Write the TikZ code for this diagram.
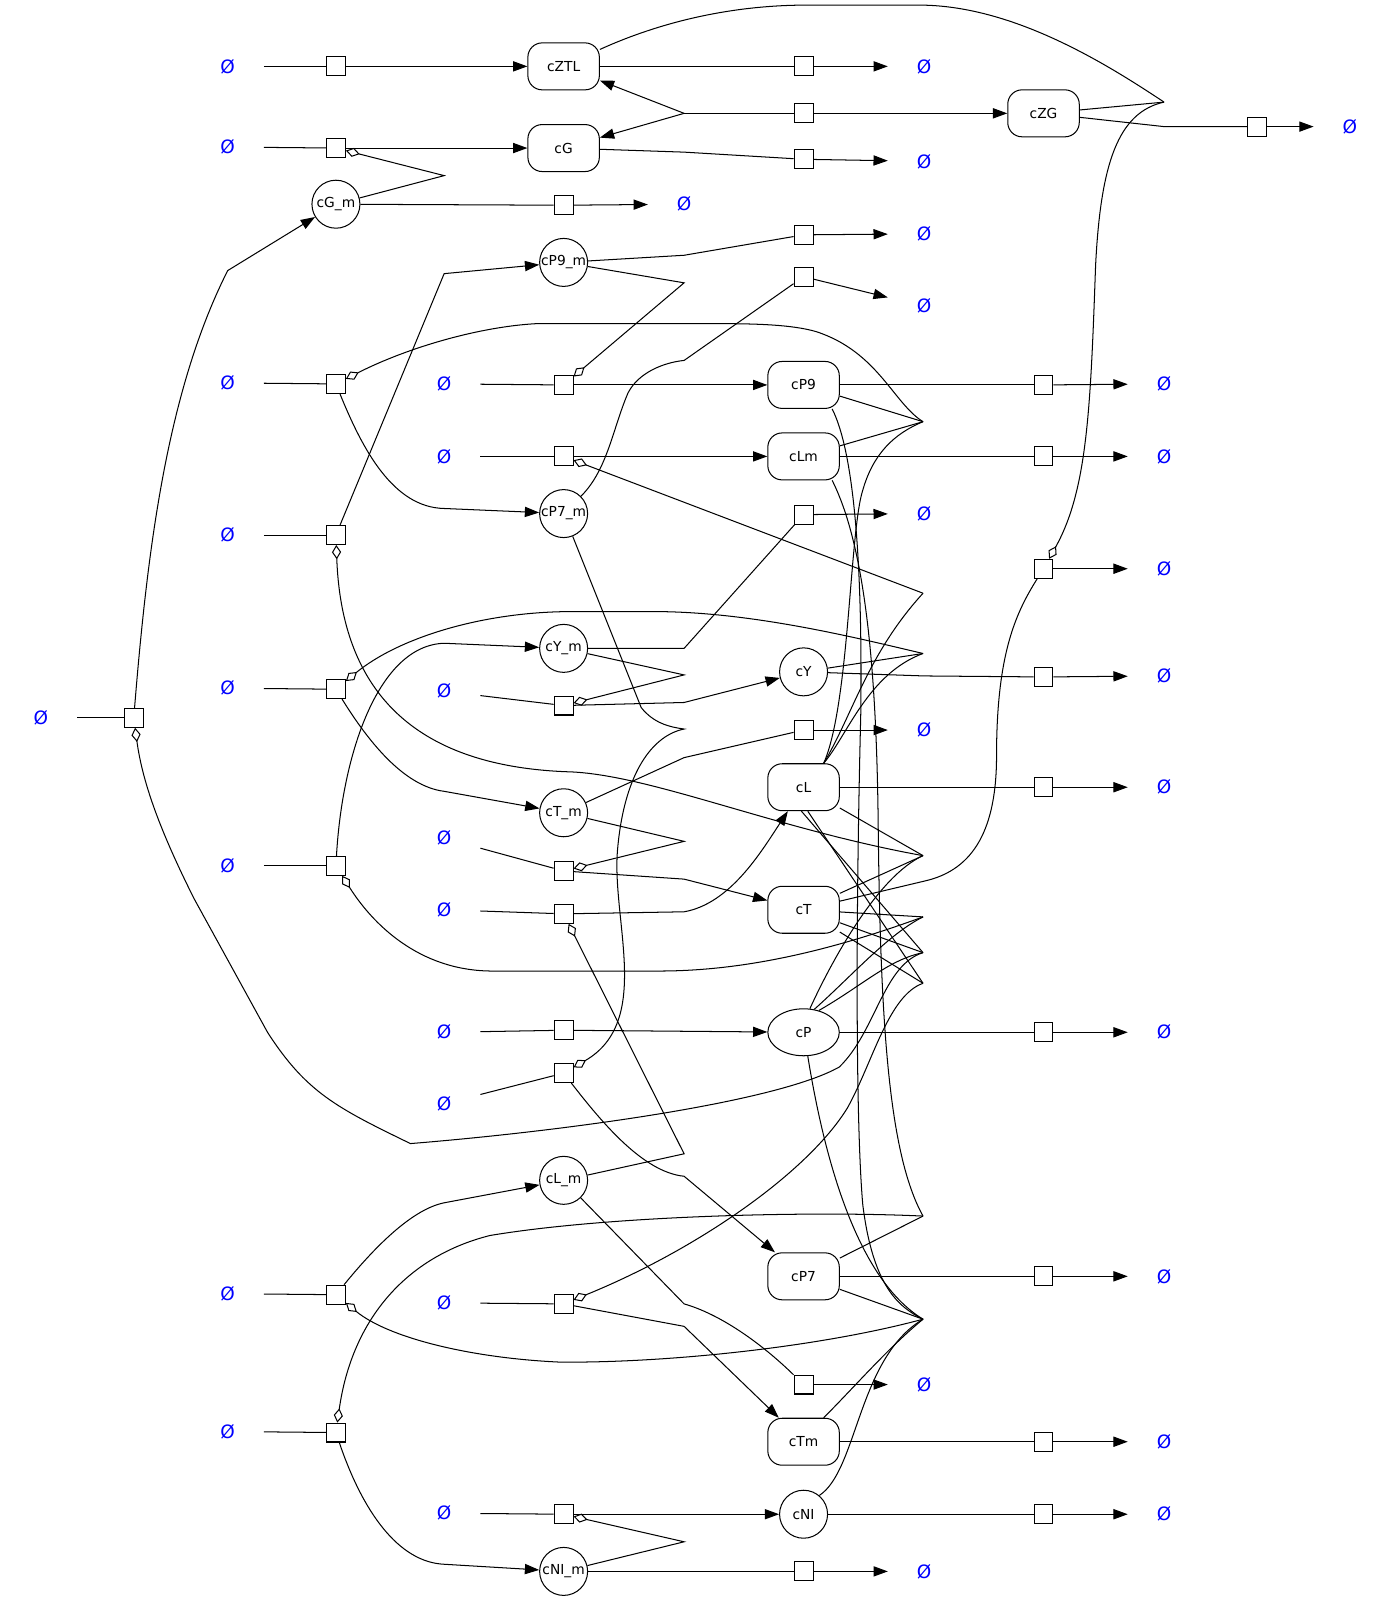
\documentclass[tikz,border=0pt]{standalone}
\usepackage{fontspec}
\setmainfont{DejaVu Sans}
\usetikzlibrary{arrows.meta,shapes.geometric}

\begin{document}
\begin{tikzpicture}[
  x=1pt, y=-1pt, line width=1pt,
  every node/.style={inner sep=0pt, font=\fontsize{13.5}{16}\selectfont},
  gene/.style={draw, rounded corners=14pt, minimum width=70pt, minimum height=46pt},
  mrna/.style={draw, circle, minimum size=47pt},
  oval/.style={draw, ellipse, minimum width=70pt, minimum height=46pt},
  proc/.style={draw, fill=white, minimum size=18.5pt},
  nil/.style={text=blue, minimum width=70pt, minimum height=22pt, font=\fontsize{18}{21}\selectfont},
  prod/.style={-{Triangle[length=14pt,width=10pt]}},
  modl/.style={-{Diamond[open,length=14pt,width=9pt]}}
]
\useasboundingbox (0,0) rectangle (1363,1568);

% species
\node[gene] (ztl)  at (552,65)   {cZTL};
\node[gene] (g)    at (552,145)  {cG};
\node[mrna] (gm)   at (329,200)  {cG\_m};
\node[gene] (zg)   at (1022,111) {cZG};
\node[mrna] (p9m)  at (552,257)  {cP9\_m};
\node[gene] (p9)   at (787,377)  {cP9};
\node[gene] (lmod) at (787,447)  {cLm};
\node[mrna] (p7m)  at (552,503)  {cP7\_m};
\node[mrna] (ym)   at (552,635)  {cY\_m};
\node[mrna] (y)    at (787,658)  {cY};
\node[gene] (l)    at (787,771)  {cL};
\node[mrna] (tm)   at (552,796)  {cT\_m};
\node[gene] (t)    at (787,891)  {cT};
\node[oval] (p)    at (787,1011) {cP};
\node[mrna] (lm)   at (552,1156) {cL\_m};
\node[gene] (p7)   at (787,1250) {cP7};
\node[gene] (tmod) at (787,1412) {cTm};
\node[mrna] (ni)   at (787,1483) {cNI};
\node[mrna] (nim)  at (552,1539) {cNI\_m};

% sources and sinks
\foreach \n/\x/\y in {n0/40/703, n1/223/65, n2/223/144, n3/223/375, n4/223/524,
    n5/223/674, n6/223/848, n7/223/1267, n8/223/1402,
    m1/435/376, m2/435/447, m3/435/677, m4/435/821, m5/435/891, m6/435/1011,
    m7/435/1081, m8/435/1276, m9/435/1482, k1/670/200,
    d1/905/65, d2/905/158, d3/905/229, d4/905/300, d5/905/503, d6/905/715,
    d7/905/1356, d8/905/1539,
    f0/1322/124, f1/1140/376, f2/1140/447, f3/1140/557, f4/1140/662, f5/1140/771,
    f6/1140/1011, f7/1140/1250, f8/1140/1412, f9/1140/1483}
  \node[nil] (\n) at (\x,\y) {Ø};

% process boxes
\foreach \n/\x/\y in {b0/131/703, b1/329/65, b2/329/145, b3/329/376, b4/329/524,
    b5/329/675, b6/329/848, b7/329/1268, b8/329/1403,
    c0/552/201, c1/552/377, c2/552/447, c3/552/691, c4/552/853, c5/552/895,
    c6/552/1009, c7/552/1051, c8/552/1277, c9/552/1483,
    g1/787/65, g2/787/111, g3/787/156, g4/787/230, g5/787/271, g6/787/504,
    g7/787/715, g8/787/1356, g9/787/1539,
    h0/1231/124, h1/1022/377, h2/1022/447, h3/1022/557, h4/1022/663, h5/1022/771,
    h6/1022/1011, h7/1022/1250, h8/1022/1412, h9/1022/1483}
  \node[proc] (\n) at (\x,\y) {};

% junctions
\coordinate (jz) at (670,111);
\coordinate (jq) at (1140,100);
\coordinate (jP7m) at (904,413);
\coordinate (jLmod) at (904,581);
\coordinate (jTm) at (904,640);
\coordinate (jP9m) at (904,838);
\coordinate (jYm) at (904,898);
\coordinate (jGm) at (904,933);
\coordinate (jTmod) at (904,963);
\coordinate (jNIm) at (904,1191);
\coordinate (jLm) at (904,1292);

% straight reactant lines
\foreach \a/\b in {n0/b0, n1/b1, n2/b2, n3/b3, n4/b4, n5/b5, n6/b6, n7/b7, n8/b8,
    m1/c1, m2/c2, m3/c3, m4/c4, m5/c5, m6/c6, m7/c7, m8/c8, m9/c9,
    ztl/g1, gm/c0, nim/g9, p9/h1, lmod/h2, l/h5, p/h6, p7/h7, tmod/h8, ni/h9}
  \draw (\a) -- (\b);

% straight product arrows
\foreach \a/\b in {b1/ztl, b2/g, c1/p9, c2/lmod, c6/p, c9/ni, g2/zg, c0/k1,
    g1/d1, g3/d2, g4/d3, g5/d4, g6/d5, g7/d6, g8/d7, g9/d8,
    h0/f0, h1/f1, h2/f2, h3/f3, h4/f4, h5/f5, h6/f6, h7/f7, h8/f8, h9/f9}
  \draw[prod] (\a) -- (\b);

% productions with bends
\draw[prod] (b0) .. controls (145,530) and (165,380) .. (223,265) -- (gm);
\draw[prod] (b3) .. controls (355,440) and (385,497) .. (435,498) -- (p7m);
\draw[prod] (b4) -- (435,268) -- (p9m);
\draw[prod] (b5) .. controls (360,725) and (395,770) .. (435,775) -- (tm);
\draw[prod] (b6) .. controls (335,740) and (370,632) .. (435,630) -- (ym);
\draw[prod] (b7) .. controls (360,1230) and (400,1185) .. (435,1178) -- (lm);
\draw[prod] (b8) .. controls (355,1480) and (390,1530) .. (435,1532) -- (nim);
\draw[prod] (c3) -- (670,688) -- (y);
\draw[prod] (c4) -- (670,861) -- (t);
\draw[prod] (c5) -- (670,893) .. controls (715,885) and (745,835) .. (l);
\draw[prod] (c7) .. controls (590,1100) and (630,1148) .. (670,1152) -- (p7);
\draw[prod] (c8) -- (670,1299) -- (tmod);

% degradations with bends
\draw (g) -- (670,149) -- (g3);
\draw (p9m) -- (670,250) -- (g4);
\draw (p7m.45) .. controls (595,460) and (600,420) .. (615,385) .. controls (625,365) and (650,355) .. (670,353) -- (g5);
\draw (ym) -- (670,635) -- (g6);
\draw (tm) -- (670,742) -- (g7);
\draw (lm) -- (670,1277) .. controls (705,1287) and (745,1315) .. (g8);
\draw (y) -- (905,662) -- (h4);
\draw (zg) -- (1140,124) -- (h0);
\draw (t) -- (905,863) .. controls (955,852) and (976,810) .. (976,740) .. controls (976,640) and (995,600) .. (h3);

% complex cZTL + cG
\draw (jz) -- (g2);
\draw[prod] (jz) -- (ztl);
\draw[prod] (jz) -- (g);

% translation modifiers
\draw[modl] (gm) -- (435,172) -- (b2);
\draw[modl] (p9m) -- (670,277) -- (c1);
\draw[modl] (ym) -- (670,661) -- (c3);
\draw[modl] (tm) -- (670,824) -- (c4);
\draw[modl] (lm) -- (670,1130) -- (c5);
\draw[modl] (nim) -- (670,1510) -- (c9);
\draw[modl] (p7m) -- (628,693) .. controls (640,708) and (655,712) .. (670,714) .. controls (640,720) and (612,755) .. (605,830) .. controls (598,900) and (640,1000) .. (c7);

% cZTL and cZG on cT
\draw (ztl.25) .. controls (650,20) and (720,5) .. (790,5) -- (900,5) .. controls (990,5) and (1080,60) .. (jq);
\draw (zg) -- (jq);
\draw[modl] (jq) .. controls (1095,110) and (1078,160) .. (1073,260) .. controls (1068,400) and (1065,480) .. (h3);

% transcription modifiers
\draw (p9) -- (jP7m);
\draw (lmod) -- (jP7m);
\draw (l.50) .. controls (832,690) and (832,520) .. (845,480) .. controls (855,445) and (875,425) .. (jP7m);
\draw[modl] (jP7m) .. controls (875,395) and (860,345) .. (800,325) .. controls (770,316) and (720,317) .. (676,317) -- (525,317) .. controls (470,320) and (400,340) .. (b3);

\draw (l.50) .. controls (835,700) and (850,640) .. (jLmod);
\draw[modl] (jLmod) -- (c2);

\draw (y) -- (jTm);
\draw (l.50) .. controls (830,720) and (850,660) .. (jTm);
\draw[modl] (jTm) .. controls (840,625) and (740,600) .. (646,599) -- (555,599) .. controls (470,600) and (390,625) .. (b5);

\draw (l) -- (jP9m);
\draw (t) -- (jP9m);
\draw (p.75) .. controls (815,940) and (860,858) .. (jP9m);
\draw[modl] (jP9m) .. controls (760,812) and (640,760) .. (560,756) .. controls (420,752) and (335,690) .. (b4);

\draw (t) -- (jYm);
\draw (p.65) .. controls (835,955) and (870,915) .. (jYm);
\draw[modl] (jYm) .. controls (830,925) and (740,951) .. (646,951) -- (480,951) .. controls (410,950) and (365,905) .. (b6);

\draw (t) -- (jGm);
\draw (l.-95) -- (jGm);
\draw (p.55) .. controls (845,965) and (870,940) .. (jGm);
\draw[modl] (jGm) .. controls (865,945) and (858,1010) .. (822,1045) .. controls (760,1080) and (550,1108) .. (402,1120) .. controls (330,1085) and (300,1070) .. (262,1011) -- (190,880) .. controls (160,820) and (140,770) .. (b0);

\draw (t) -- (jTmod);
\draw (l.-80) -- (jTmod);
\draw[modl] (jTmod) .. controls (870,975) and (855,1040) .. (830,1085) .. controls (790,1150) and (680,1225) .. (c8);

\draw (lmod.-40) .. controls (845,530) and (858,640) .. (860,800) .. controls (862,1000) and (870,1130) .. (jNIm);
\draw (p7) -- (jNIm);
\draw[modl] (jNIm) .. controls (800,1186) and (600,1190) .. (480,1210) .. controls (400,1230) and (345,1290) .. (b8);

\draw (p9.-40) .. controls (835,440) and (845,540) .. (843,700) .. controls (838,900) and (838,1100) .. (845,1180) .. controls (855,1260) and (880,1280) .. (jLm);
\draw (p.-80) .. controls (805,1120) and (835,1250) .. (jLm);
\draw (p7) -- (jLm);
\draw (tmod.50) .. controls (840,1355) and (870,1320) .. (jLm);
\draw (ni.50) .. controls (840,1440) and (840,1330) .. (jLm);
\draw[modl] (jLm) .. controls (800,1320) and (650,1335) .. (548,1334) .. controls (460,1330) and (380,1310) .. (b7);
\end{tikzpicture}
\end{document}
